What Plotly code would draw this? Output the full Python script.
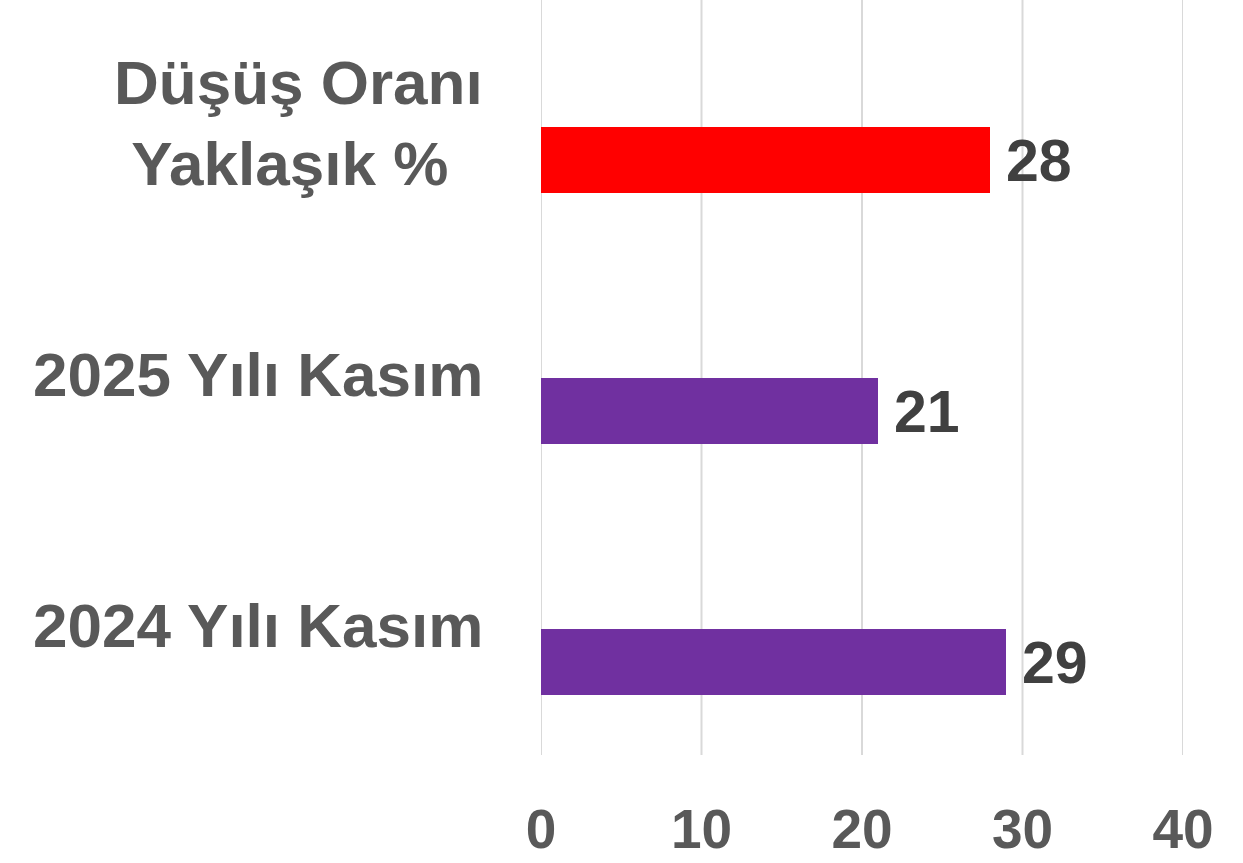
import plotly.graph_objects as go

categories = ["2024 Yılı Kasım", "2025 Yılı Kasım", "Düşüş Oranı<br>Yaklaşık %\u00a0"]
values = [29, 21, 28]
bar_colors = ["#7030A0", "#7030A0", "#FF0000"]
x_ticks = [0, 10, 20, 30, 40]

W, H = 1243, 863
ML, MR, MT, MB = 541, 60, 0, 108

fig = go.Figure()
fig.add_trace(go.Bar(
    x=values,
    y=list(range(len(categories))),
    orientation="h",
    marker=dict(color=bar_colors, line=dict(width=0)),
    width=0.26,
    hoverinfo="skip",
))

label_font = dict(family="Liberation Sans, Arial, sans-serif", size=62, color="#595959", weight="bold")
value_font = dict(family="Liberation Sans, Arial, sans-serif", size=59, color="#404040", weight="bold")

for i, (cat, v) in enumerate(zip(categories, values)):
    fig.add_annotation(
        x=0, xref="paper", y=i, yref="y",
        text=cat, showarrow=False, xanchor="right", yanchor="middle",
        align="center", xshift=-56, yshift=37, font=label_font,
    )
    fig.add_annotation(
        x=v, xref="x", y=i, yref="y",
        text=str(v), showarrow=False, xanchor="left", yanchor="middle",
        xshift=14, yshift=-1, font=value_font,
    )

# vertical gridlines (including the ones at the range edges)
for t in x_ticks:
    fig.add_shape(type="line", xref="x", yref="paper", x0=t, x1=t, y0=0, y1=1,
                  line=dict(color="#D9D9D9", width=2), layer="below")

fig.update_layout(
    width=W, height=H,
    margin=dict(l=ML, r=MR, t=MT, b=MB, pad=0),
    paper_bgcolor="white", plot_bgcolor="white",
    showlegend=False,
    bargap=0,
    xaxis=dict(
        range=[0, 40], tickvals=x_ticks, ticktext=[str(t) for t in x_ticks],
        showgrid=False, automargin=False,
        zeroline=False, showline=False, ticks="",
        tickfont=dict(family="Liberation Sans, Arial", size=55, color="#595959", weight="bold"),
        ticklabelstandoff=37,
        fixedrange=True,
    ),
    yaxis=dict(
        range=[-0.370, 2.637], showticklabels=False, showgrid=False, automargin=False,
        zeroline=False, showline=False, ticks="", fixedrange=True,
    ),
)

fig.write_html("out.html", config={"displayModeBar": False},
               post_script="document.body.style.margin='0';document.body.style.overflow='hidden';")
